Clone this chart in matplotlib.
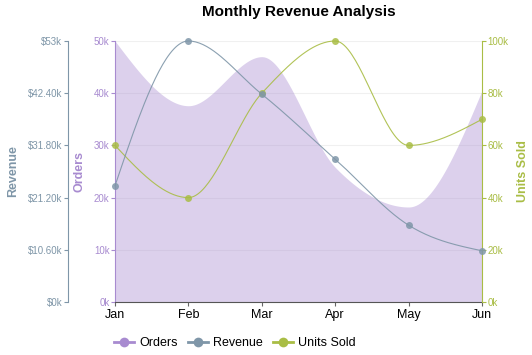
import numpy as np
import matplotlib
matplotlib.use("Agg")
import matplotlib.pyplot as plt
from matplotlib.lines import Line2D

plt.rcParams['font.family'] = ['Liberation Sans', 'DejaVu Sans']

months = ['Jan', 'Feb', 'Mar', 'Apr', 'May', 'Jun']
orders = [50000, 37600, 47000, 25800, 18200, 40500]
revenue = [23600, 53000, 42200, 29000, 15600, 10400]
units_sold = [60000, 40000, 80000, 100000, 60000, 70000]

c_orders = '#a88bd0'
c_revenue = '#7f96a8'
c_units = '#a9bd45'


def monotone_x(xs, ys, n=40):
    # d3 curveMonotoneX style smoothing
    xs = np.asarray(xs, float)
    ys = np.asarray(ys, float)
    h = np.diff(xs)
    s = np.diff(ys) / h
    m = np.zeros(len(xs))
    for i in range(1, len(xs) - 1):
        p = (s[i - 1] * h[i] + s[i] * h[i - 1]) / (h[i - 1] + h[i])
        m[i] = (np.sign(s[i - 1]) + np.sign(s[i])) * min(abs(s[i - 1]), abs(s[i]), 0.5 * abs(p))
    m[0] = (3 * s[0] - m[1]) / 2
    m[-1] = (3 * s[-1] - m[-2]) / 2
    px, py = [], []
    for i in range(len(xs) - 1):
        t = np.linspace(0, 1, n, endpoint=(i == len(xs) - 2))
        x0, x1 = xs[i], xs[i + 1]
        y0, y1 = ys[i], ys[i + 1]
        dx = (x1 - x0) / 3
        c1 = y0 + dx * m[i]
        c2 = y1 - dx * m[i + 1]
        bx = (1 - t) ** 3 * x0 + 3 * (1 - t) ** 2 * t * (x0 + dx) + 3 * (1 - t) * t ** 2 * (x1 - dx) + t ** 3 * x1
        by = (1 - t) ** 3 * y0 + 3 * (1 - t) ** 2 * t * c1 + 3 * (1 - t) * t ** 2 * c2 + t ** 3 * y1
        px.extend(bx)
        py.extend(by)
    return np.array(px), np.array(py)


x = np.arange(len(months))

fig = plt.figure(figsize=(5.32, 3.55), dpi=100)
ax = fig.add_axes([115 / 532, 1 - 302 / 355, (482 - 115) / 532, (302 - 41) / 355])

# orders area
ox, oy = monotone_x(x, orders)
ax.fill_between(ox, 0, oy, color=c_orders, alpha=0.4, linewidth=0)
ax.set_ylim(0, 50000)
ax.set_xlim(0, len(months) - 1)
ax.set_yticks(np.arange(0, 50001, 10000))
ax.set_yticklabels([f'{v // 1000}k' for v in range(0, 50001, 10000)])
ax.grid(axis='y', color='#f0f0f0', linewidth=0.8)
ax.set_axisbelow(True)
ax.set_xticks(x)
ax.set_xticklabels(months, fontsize=9, color='black')
ax.tick_params(axis='x', length=3, color='#666666', pad=2)
ax.tick_params(axis='y', colors=c_orders, labelsize=7, length=3, pad=1)
ax.spines['left'].set_color(c_orders)
ax.spines['bottom'].set_color('#555555')
ax.spines['top'].set_visible(False)
ax.spines['right'].set_visible(False)
ax.set_ylabel('Orders', color=c_orders, fontsize=9, fontweight='bold', labelpad=6)

# units sold axis
ax_u = ax.twinx()
for sp in ['top', 'left', 'bottom']:
    ax_u.spines[sp].set_visible(False)
ax_u.spines['right'].set_color(c_units)
ax_u.set_ylim(0, 100000)
ax_u.set_yticks(np.arange(0, 100001, 20000))
ax_u.set_yticklabels([f'{v // 1000}k' for v in range(0, 100001, 20000)])
ax_u.tick_params(axis='y', colors=c_units, labelsize=7, length=3, pad=1)
ax_u.set_ylabel('Units Sold', color=c_units, fontsize=9, fontweight='bold', labelpad=6)
ux, uy = monotone_x(x, units_sold)
ax_u.plot(ux, uy, color=c_units, linewidth=0.8, alpha=0.9, clip_on=False)
ax_u.plot(x, units_sold, 'o', color=c_units, markersize=5, alpha=0.85, markeredgewidth=0, clip_on=False)

# revenue axis (drawn on top)
ax_r = ax.twinx()
ax_r.set_zorder(ax_u.get_zorder() + 1)
ax_r.patch.set_visible(False)
ax_r.yaxis.set_label_position('left')
ax_r.yaxis.tick_left()
ax_r.spines['left'].set_position(('outward', 34))
ax_r.spines['left'].set_visible(True)
ax_r.spines['left'].set_color(c_revenue)
for sp in ['top', 'right', 'bottom']:
    ax_r.spines[sp].set_visible(False)
rev_ticks = np.linspace(0, 53000, 6)
ax_r.set_ylim(0, 53000)
ax_r.set_yticks(rev_ticks)
ax_r.set_yticklabels(['$0k', '$10.60k', '$21.20k', '$31.80k', '$42.40k', '$53k'])
ax_r.tick_params(axis='y', colors=c_revenue, labelsize=7, length=3, pad=1)
ax_r.set_ylabel('Revenue', color=c_revenue, fontsize=9, fontweight='bold', labelpad=6)
rx, ry = monotone_x(x, revenue)
ax_r.plot(rx, ry, color=c_revenue, linewidth=0.8, alpha=0.9, clip_on=False)
ax_r.plot(x, revenue, 'o', color=c_revenue, markersize=5, alpha=0.85, markeredgewidth=0, clip_on=False)

fig.suptitle('Monthly Revenue Analysis', x=298.5 / 532, y=1 - 5 / 355, va='top',
             fontsize=11, fontweight='bold')

handles = [Line2D([], [], color=c, marker='o', markersize=7, markeredgewidth=0, linewidth=2)
           for c in (c_orders, c_revenue, c_units)]
fig.legend(handles, ['Orders', 'Revenue', 'Units Sold'], loc='center left',
           bbox_to_anchor=(103 / 532, 1 - 343 / 355), ncol=3, frameon=False,
           fontsize=9, handlelength=1.6, columnspacing=0.8, handletextpad=0.4)

fig.savefig('out.png', dpi=100)
